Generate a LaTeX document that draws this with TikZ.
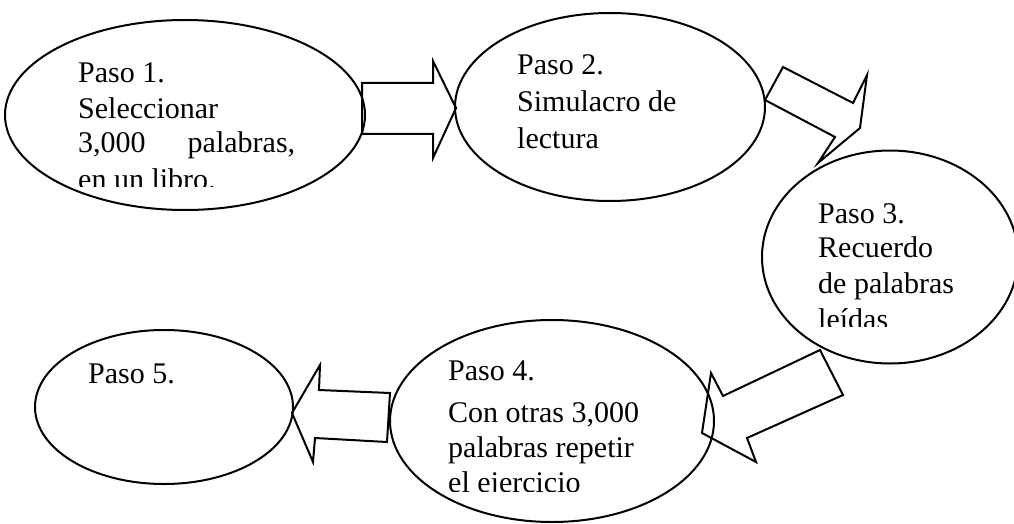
\documentclass[tikz,border=0pt]{standalone}
\usepackage{fontspec}
\setmainfont{Liberation Serif}
\usetikzlibrary{shapes.geometric}
\begin{document}
\begin{tikzpicture}[x=1pt,y=-1pt,
  stepellipse/.style={draw, ellipse, line width=2pt, inner sep=0pt},
  blockarrow/.style={draw, line width=2pt, line join=miter},
  txt/.style={anchor=base west, inner sep=0pt, font=\fontsize{30}{36}\selectfont}]
\useasboundingbox (0,0) rectangle (1014,524);
\clip (0,0) rectangle (1014,524);
% ellipses
\node[stepellipse, minimum width=360pt, minimum height=190pt] (e1) at (185,115) {};
\node[stepellipse, minimum width=310pt, minimum height=188pt] (e2) at (610,107) {};
\node[stepellipse, minimum width=256pt, minimum height=213pt] (e3) at (890,257) {};
\node[stepellipse, minimum width=324pt, minimum height=202pt] (e4) at (552,421) {};
\node[stepellipse, minimum width=258pt, minimum height=154pt] (e5) at (164,407) {};
% block arrows
\draw[blockarrow] (362,83) -- (433,83) -- (433,61) -- (456,108) -- (433,158) -- (433,134) -- (362,134) -- cycle;
\draw[blockarrow] (783,67) -- (853,103) -- (867,75) -- (860,128) -- (818,163) -- (835,137) -- (765,100) -- cycle;
\draw[blockarrow] (820,350) -- (843,395) -- (747,438) -- (756,462) -- (702,433) -- (711,373) -- (723,396) -- cycle;
\draw[blockarrow] (390,393) -- (387,442) -- (315,438) -- (313,462) -- (292,413) -- (320,365) -- (319,390) -- cycle;
% texts
\begin{scope}
\clip (0,0) rectangle (400,186);
\node[txt] (t1a) at (78,83) {Paso 1.};
\node[txt] (t1b) at (78,118) {Seleccionar};
\node[txt] (t1c) at (78,153) {\makebox[217pt][l]{3,000\hfill palabras,}};
\node[txt] (t1d) at (78,189) {en un libro.};
\end{scope}
\node[txt] (t2a) at (517,75) {Paso 2.};
\node[txt] (t2b) at (517,112) {Simulacro de};
\node[txt] (t2c) at (517,148) {lectura};
\begin{scope}
\clip (700,150) rectangle (1014,326);
\node[txt] (t3a) at (818,223) {Paso 3.};
\node[txt] (t3b) at (818,257) {Recuerdo};
\node[txt] (t3c) at (818,293) {de palabras};
\node[txt] (t3d) at (818,329) {leídas};
\end{scope}
\begin{scope}
\clip (400,330) rectangle (720,491);
\node[txt] (t4a) at (448,380) {Paso 4.};
\node[txt] (t4b) at (448,422) {Con otras 3,000};
\node[txt] (t4c) at (448,457) {palabras repetir};
\node[txt] (t4d) at (448,492) {el ejercicio};
\end{scope}
\node[txt] (t5a) at (88,383) {Paso 5.};
\end{tikzpicture}
\end{document}
